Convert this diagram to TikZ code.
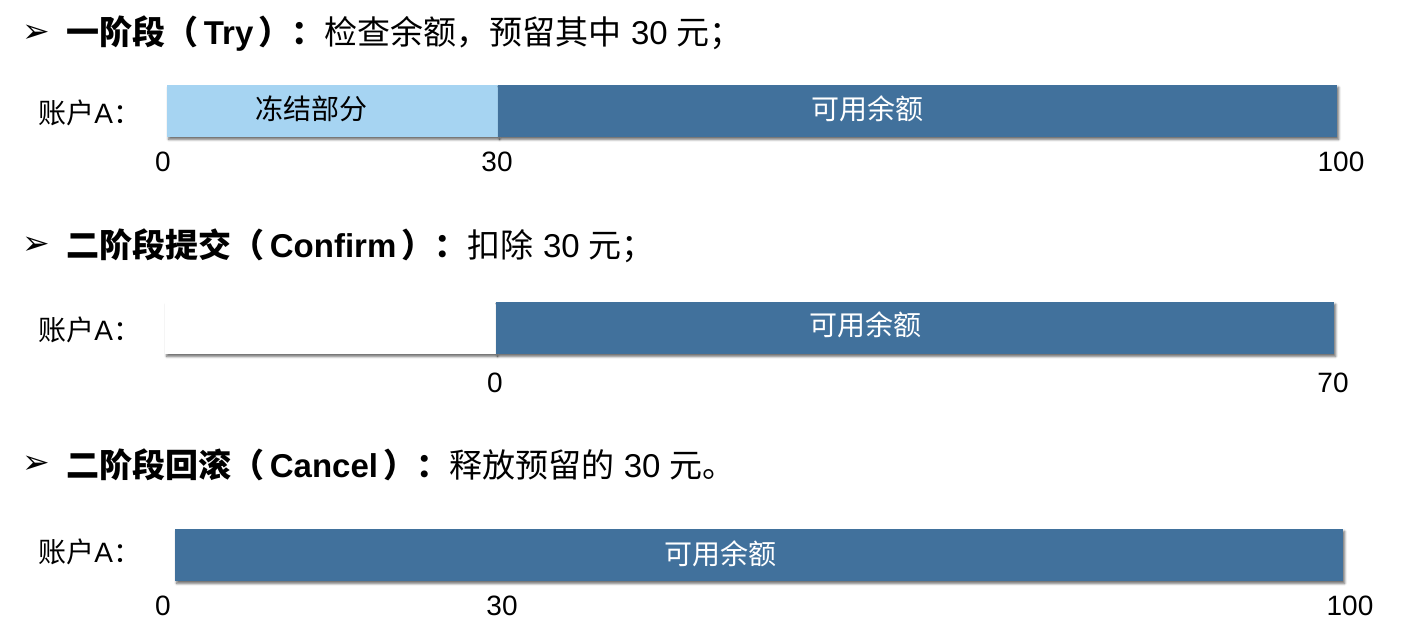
\documentclass[tikz,border=0pt]{standalone}
\usepackage{fontspec}
\setmainfont{Liberation Sans}
\newfontfamily\cjk{Noto Sans CJK SC}
\newfontfamily\sym{DejaVu Sans}
\usepackage{tikz}
\usetikzlibrary{positioning,shadows,shadows.blur}
\definecolor{availblue}{HTML}{41719C}
\definecolor{frozenblue}{HTML}{A6D4F2}
\newcommand{\zh}[1]{{\cjk #1}}
\tikzset{
    head/.style={anchor=west, inner sep=0pt, font=\fontsize{16.5pt}{18pt}\selectfont},
    acct/.style={anchor=west, inner sep=0pt, font=\fontsize{14pt}{16pt}\selectfont},
    num/.style={inner sep=0pt, font=\fontsize{14pt}{16pt}\selectfont},
    bartext/.style={inner sep=0pt, font=\fontsize{14pt}{16pt}\selectfont},
    barshadow/.style={blur shadow={shadow xshift=0.8pt, shadow yshift=-1.2pt, shadow blur radius=1.2pt, shadow blur steps=6, shadow opacity=60}},
    avail/.style={fill=availblue, barshadow},
    frozen/.style={fill=frozenblue, barshadow},
    spent/.style={fill=white, barshadow}
}
\begin{document}
\begin{tikzpicture}[x=0.5pt, y=-0.5pt]
    \useasboundingbox (0,0) rectangle (1427,642);

    % Try
    \node[head] (bul1) at (22,34) {\sym ➢};
    \node[head] (try) at (66,34) {\bfseries\zh{一阶段（}\,Try\,\zh{）：}\mdseries\zh{检查余额，预留其中} 30 \zh{元；}};
    \node[acct] (acc1) at (38,113) {\zh{账户}A\zh{：}};
    \path[frozen] (167,85) rectangle (498,137);
    \path[avail] (498,85) rectangle (1337,137);
    \node[bartext] (frz1) at (311,109) {\zh{冻结部分}};
    \node[bartext, white] (av1) at (867,109) {\zh{可用余额}};
    \node[num] (n1a) at (163,162) {0};
    \node[num] (n1b) at (497,162) {30};
    \node[num] (n1c) at (1341,162) {100};

    % Confirm
    \node[head] (bul2) at (22,246) {\sym ➢};
    \node[head] (conf) at (66,246) {\bfseries\zh{二阶段提交（}\,Confirm\,\zh{）：}\mdseries\zh{扣除} 30 \zh{元；}};
    \node[acct] (acc2) at (38,330) {\zh{账户}A\zh{：}};
    \path[spent] (165,302) rectangle (496,354);
    \path[avail] (496,302) rectangle (1334,354);
    \node[bartext, white] (av2) at (865,325) {\zh{可用余额}};
    \node[num] (n2a) at (495,383) {0};
    \node[num] (n2b) at (1333,383) {70};

    % Cancel
    \node[head] (bul3) at (22,465) {\sym ➢};
    \node[head] (canc) at (66,465) {\bfseries\zh{二阶段回滚（}\,Cancel\,\zh{）：}\mdseries\zh{释放预留的} 30 \zh{元。}};
    \node[acct] (acc3) at (38,552) {\zh{账户}A\zh{：}};
    \path[avail] (175,529) rectangle (1343,581);
    \node[bartext, white] (av3) at (720,554) {\zh{可用余额}};
    \node[num] (n3a) at (163,606) {0};
    \node[num] (n3b) at (502,606) {30};
    \node[num] (n3c) at (1350,606) {100};
\end{tikzpicture}
\end{document}
